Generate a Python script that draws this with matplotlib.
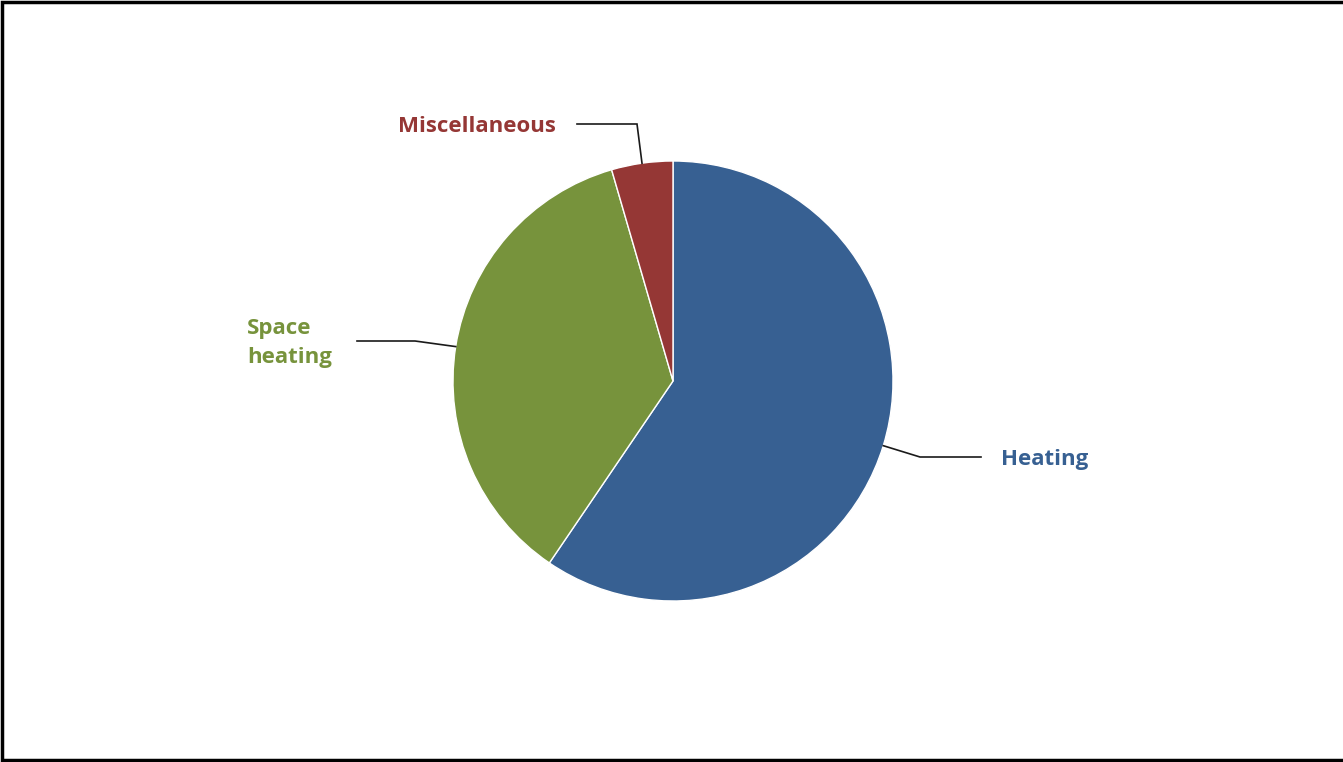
import matplotlib.pyplot as plt
import numpy as np

labels = ["Heating", "Space heating", "Miscellaneous"]
shares = [59.5, 36.0, 4.5]
colors = ["#376092", "#77933C", "#953735"]

W, H = 1343, 762
fig = plt.figure(figsize=(W / 100, H / 100), dpi=100)
ax = fig.add_axes([0, 0, 1, 1])

cx, cy, r = 673, H - 381, 220
wedges, _ = ax.pie(shares, colors=colors, startangle=90, counterclock=False,
                   center=(cx, cy), radius=r, frame=True,
                   wedgeprops=dict(edgecolor="white", linewidth=1.0))
ax.set_xlim(0, W)
ax.set_ylim(0, H)
ax.set_aspect("equal")
ax.axis("off")

# leader elbows / ends and label anchors, in pixel space from top-left
leaders = {
    "Heating": ((920, 457), (981, 457), (1001, 459), "left", "Heating"),
    "Space heating": ((415, 341), (357, 341), (247, 343), "left", "Space\nheating"),
    "Miscellaneous": ((637, 124), (577, 124), (556, 126), "right", "Miscellaneous"),
}

for w, lab, col in zip(wedges, labels, colors):
    mid = np.deg2rad((w.theta1 + w.theta2) / 2)
    x0, y0 = cx + r * np.cos(mid), cy + r * np.sin(mid)
    (ex, ey), (tx, ty), (lx, ly), ha, txt = leaders[lab]
    ax.plot([x0, ex, tx], [y0, H - ey, H - ty], color="#1a1a1a", lw=1.2,
            solid_joinstyle="miter")
    ax.text(lx, H - ly, txt, ha=ha, va="center", color=col, fontsize=16,
            fontweight="bold", family="Open Sans", linespacing=1.45)

# frame on top, left and bottom (right side runs off the canvas)
ax.plot([W + 5, 2, 2, W + 5], [H - 2, H - 2, 2, 2], color="black", lw=2.5,
        solid_joinstyle="miter", clip_on=False)

fig.savefig("out.png", dpi=100)
